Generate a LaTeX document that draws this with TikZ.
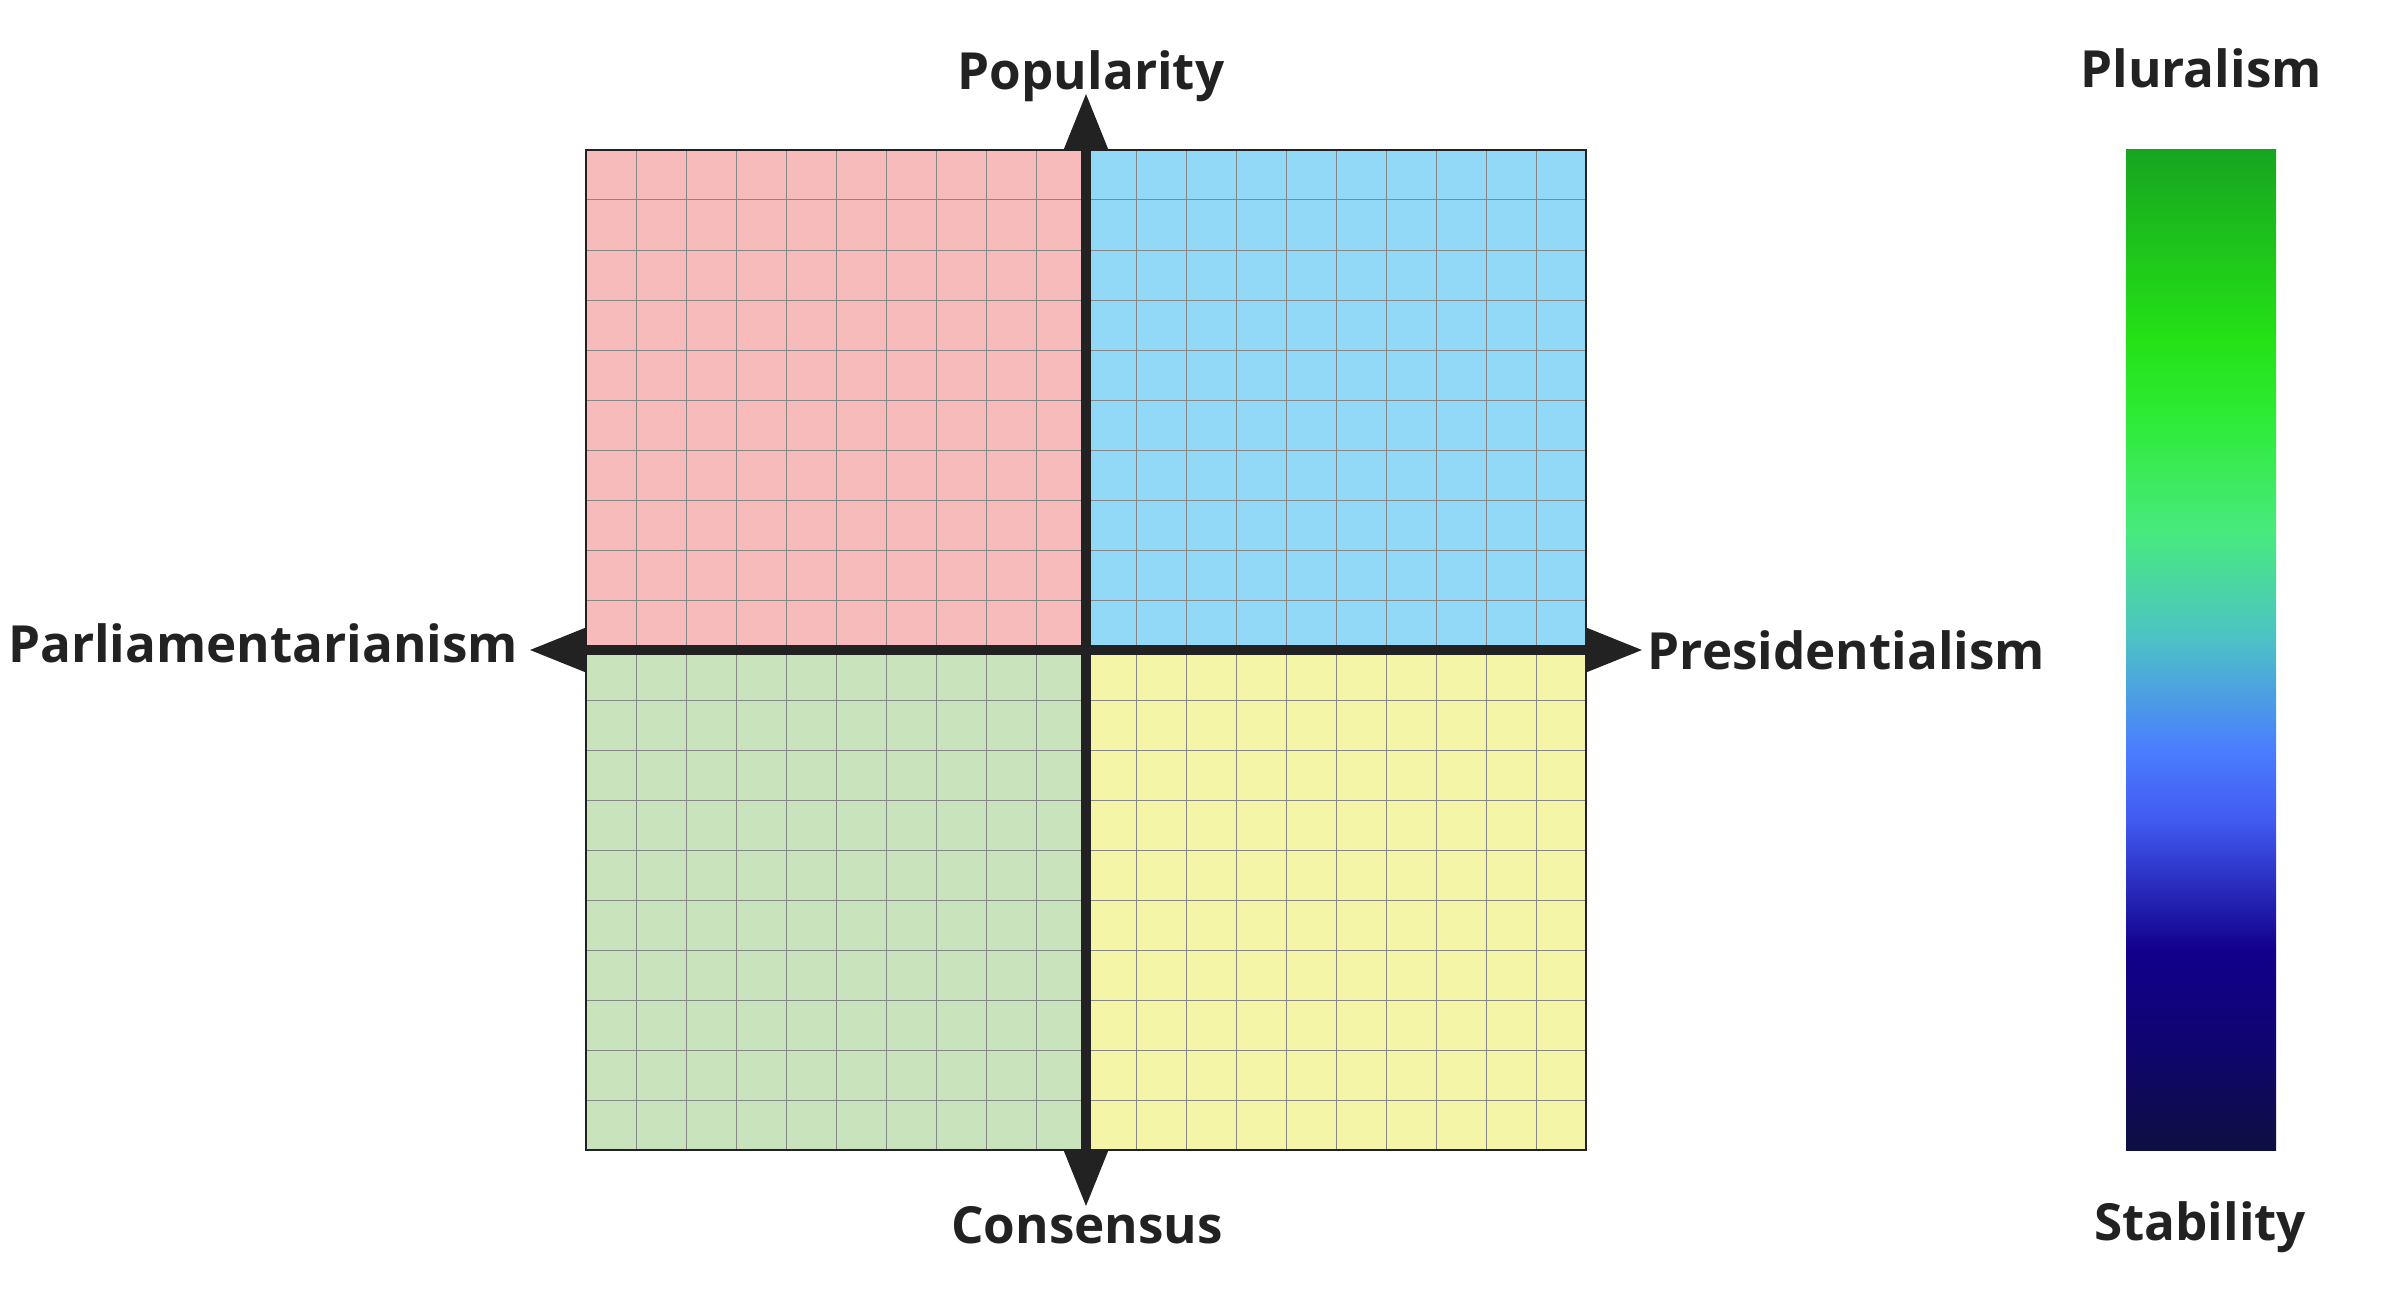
\documentclass[tikz,border=0pt]{standalone}
\usepackage{fontspec}
\setmainfont{Open Sans}
\usepackage{xcolor}
\usepackage{tikz}
\usetikzlibrary{arrows.meta, positioning}

\definecolor{encre}{RGB}{34,34,34}
\definecolor{rose}{RGB}{248,187,187}
\definecolor{ciel}{RGB}{146,217,247}
\definecolor{sauge}{RGB}{201,228,189}
\definecolor{paille}{RGB}{244,245,167}
\definecolor{filet}{RGB}{135,135,135}

% couleurs de la barre
\definecolor{b1}{RGB}{23,165,32}
\definecolor{b2}{RGB}{36,226,22}
\definecolor{b3}{RGB}{46,235,55}
\definecolor{b4}{RGB}{72,234,125}
\definecolor{b5}{RGB}{76,196,195}
\definecolor{b6}{RGB}{75,125,255}
\definecolor{b7}{RGB}{65,90,240}
\definecolor{b8}{RGB}{18,0,140}
\definecolor{b9}{RGB}{15,5,110}
\definecolor{b10}{RGB}{13,15,65}
\pgfdeclareverticalshading{barre}{100bp}{color(0bp)=(b10); color(25bp)=(b10);
  color(30bp)=(b9); color(35bp)=(b8); color(41.5bp)=(b7); color(45bp)=(b6);
  color(50.75bp)=(b5); color(56bp)=(b4); color(61.5bp)=(b3); color(65.5bp)=(b2);
  color(75bp)=(b1); color(100bp)=(b1)}

\begin{document}
\begin{tikzpicture}[x=0.01cm, y=-0.01cm,
                    grille/.style={draw=filet, line width=0.01cm},
                    cadre/.style={draw=encre, line width=0.015cm},
                    axe/.style={{Triangle[length=0.57cm,width=0.42cm]}-{Triangle[length=0.57cm,width=0.42cm]},
                                draw=encre, line width=0.1cm},
                    etiquette/.style={text=encre, inner sep=0pt, anchor=base,
                                      font=\fontsize{14.55pt}{17pt}\selectfont\bfseries}]
            \useasboundingbox (0,0) rectangle (2400,1300);

            % Quadrants
            \fill[rose] (586,150) rectangle (1086,650);
            \fill[ciel] (1086,150) rectangle (1586,650);
            \fill[sauge] (586,650) rectangle (1086,1150);
            \fill[paille] (1086,650) rectangle (1586,1150);

            % Grille
            \foreach \i in {1,...,19} {
                \draw[grille] (586+50*\i,150) -- (586+50*\i,1150);
                \draw[grille] (586,150+50*\i) -- (1586,150+50*\i);
            }
            \draw[cadre] (586,150) rectangle (1586,1150);

            % Axes
            \coordinate (haut) at (1086,93);
            \coordinate (bas) at (1086,1207);
            \coordinate (gauche) at (529,650);
            \coordinate (droite) at (1643,650);
            \draw[axe] (gauche) -- (droite);
            \draw[axe] (bas) -- (haut);

            % Etiquettes des axes
            \node[etiquette] (popularite) at (1091,90) {Popularity};
            \node[etiquette] (consensus) at (1087,1243) {Consensus};
            \node[etiquette, anchor=base east] (parlement) at (519,662) {Parliamentarianism};
            \node[etiquette, anchor=base west] (president) at (1647,669) {Presidentialism};

            % Barre de couleur
            \shade[shading=barre] (2126,150) rectangle (2276,1150);
            \node[etiquette] (pluralisme) at (2201,88) {Pluralism};
            \node[etiquette] (stabilite) at (2200,1240) {Stability};

        \end{tikzpicture}
\end{document}
